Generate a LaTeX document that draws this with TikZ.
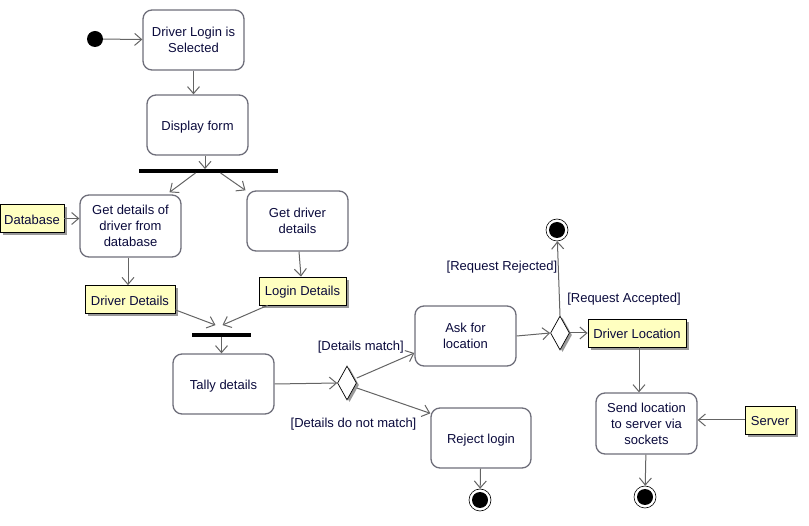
\documentclass[tikz,border=0pt]{standalone}
\usepackage{fontspec}
\setmainfont{Liberation Sans}
\usetikzlibrary{arrows.meta,shapes.geometric,shadows,calc}
\definecolor{txt}{RGB}{10,10,60}
\definecolor{edge}{RGB}{100,100,100}
\definecolor{border}{RGB}{110,110,122}
\definecolor{objfill}{RGB}{255,255,192}
\begin{document}
\begin{tikzpicture}[x=1pt,y=-1pt,
  font=\fontsize{13pt}{16pt}\selectfont, text=txt,
  action/.style={draw=border, line width=1.3pt, rounded corners=9pt, fill=white,
    minimum width=101pt, minimum height=60pt, align=center, inner sep=2pt,
    execute at begin node={\rule{0pt}{13pt}}},
  object/.style={draw=black, line width=0.8pt, fill=objfill, inner sep=0pt,
    minimum height=28pt, align=center,
    execute at begin node={\rule{0pt}{11.5pt}},
    drop shadow={shadow xshift=3pt, shadow yshift=-3pt, fill=gray!80, opacity=1}},
  bar/.style={fill=black, inner sep=0pt, minimum height=3.5pt},
  decision/.style={diamond, draw=black, line width=0.7pt, fill=white, inner sep=0pt,
    minimum width=19pt, minimum height=34pt,
    drop shadow={shadow xshift=2.5pt, shadow yshift=-2pt, fill=gray!80, opacity=1}},
  startnode/.style={circle, fill=black, inner sep=0pt, minimum size=16pt},
  endnode/.style={circle, draw=black, fill=white, line width=0.6pt, inner sep=0pt,
    minimum size=22pt, path picture={\fill[black] (path picture bounding box.center) circle (8pt);}},
  flow/.style={draw=edge, line width=1pt, -{Straight Barb[length=7pt,width=12pt]}},
  guard/.style={text=txt, inner sep=0pt}
]
\useasboundingbox (0,0) rectangle (809,526);

% activities
\node[startnode] (start) at (95,39) {};
\node[action] (login) at (193.5,40) {Driver Login is\\Selected};
\node[action] (display) at (197.5,125) {Display form};
\node[bar, minimum width=139pt] (fork) at (208.5,171) {};
\node[action, minimum height=62pt] (getdb) at (130.5,226) {Get details of\\driver from\\database};
\node[action] (getdrv) at (297.5,221) {Get driver\\details};
\node[bar, minimum width=59pt] (join) at (221.5,335) {};
\node[action] (tally) at (223.5,384) {Tally details};
\node[decision] (d1) at (347,383) {};
\node[action] (ask) at (465.5,336) {Ask for\\location};
\node[action, minimum width=100pt] (reject) at (481,438) {Reject login};
\node[endnode] (end1) at (480,500) {};
\node[decision] (d2) at (560,333) {};
\node[endnode] (end2) at (557,230) {};
\node[action, minimum height=61pt] (send) at (646.5,423.5) {Send location\\to server via\\sockets};
\node[endnode] (end3) at (645,497) {};

% object nodes
\node[object, minimum width=64pt] (database) at (32,218.5) {Database};
\node[object, minimum width=90pt] (drvdet) at (130,299.5) {Driver Details};
\node[object, minimum width=87pt] (logindet) at (302.5,291) {Login Details};
\node[object, minimum width=98pt] (drvloc) at (637,333) {Driver Location};
\node[object, minimum width=50pt] (server) at (770,420) {Server};

% control and object flows
\draw[flow] (start) -- (login);
\draw[flow] (login) -- (login |- display.north);
\draw[flow] ([xshift=7.5pt]display.south) -- ([xshift=7.5pt]display.south |- fork.north);
\draw[flow] ($(fork.south)+(-13,0)$) -- ($(getdb.north)+(39,-2)$);
\draw[flow] ($(fork.south)+(12,0)$) -- ($(getdrv.north)+(-52,0)$);
\draw[flow] (database) -- (database -| getdb.west);
\draw[flow] ([xshift=-2.5pt]getdb.south) -- ([xshift=-2.5pt]getdb.south |- drvdet.north);
\draw[flow] ([xshift=1.5pt]getdrv.south) -- ([xshift=-1.5pt]logindet.north);
\draw[flow] ($(drvdet.south east)+(0,-4)$) -- ($(join.north)+(-6,-8)$);
\draw[flow] ($(logindet.south west)+(9,0)$) -- ($(join.north)+(1,-8)$);
\draw[flow] (join.south) -- (join.south |- tally.north);
\draw[flow] (tally.east) -- (d1.west);
\draw[flow] ($(d1.east)+(0,-5)$) -- ($(ask.west)+(0,17)$);
\draw[flow] ($(d1.east)+(0,5)$) -- ($(reject.north west)+(0,6)$);
\draw[flow] (reject) -- (end1);
\draw[flow] (ask.east) -- (d2.west);
\draw[flow] (d2.north) -- (end2);
\draw[flow] (d2.east) -- (drvloc.west);
\draw[flow] (drvloc.south -| 639,0) -- (send.north -| 639,0);
\draw[flow] (server.west) -- (server.west -| send.east);
\draw[flow] (send) -- (end3);

% guards
\node[guard, anchor=east] (g1) at (404,347.5) {[Details match]};
\node[guard] (g2) at (353.5,424.5) {[Details do not match]};
\node[guard] (g3) at (502,267.5) {[Request Rejected]};
\node[guard] (g4) at (624,299.5) {[Request Accepted]};
\end{tikzpicture}
\end{document}
